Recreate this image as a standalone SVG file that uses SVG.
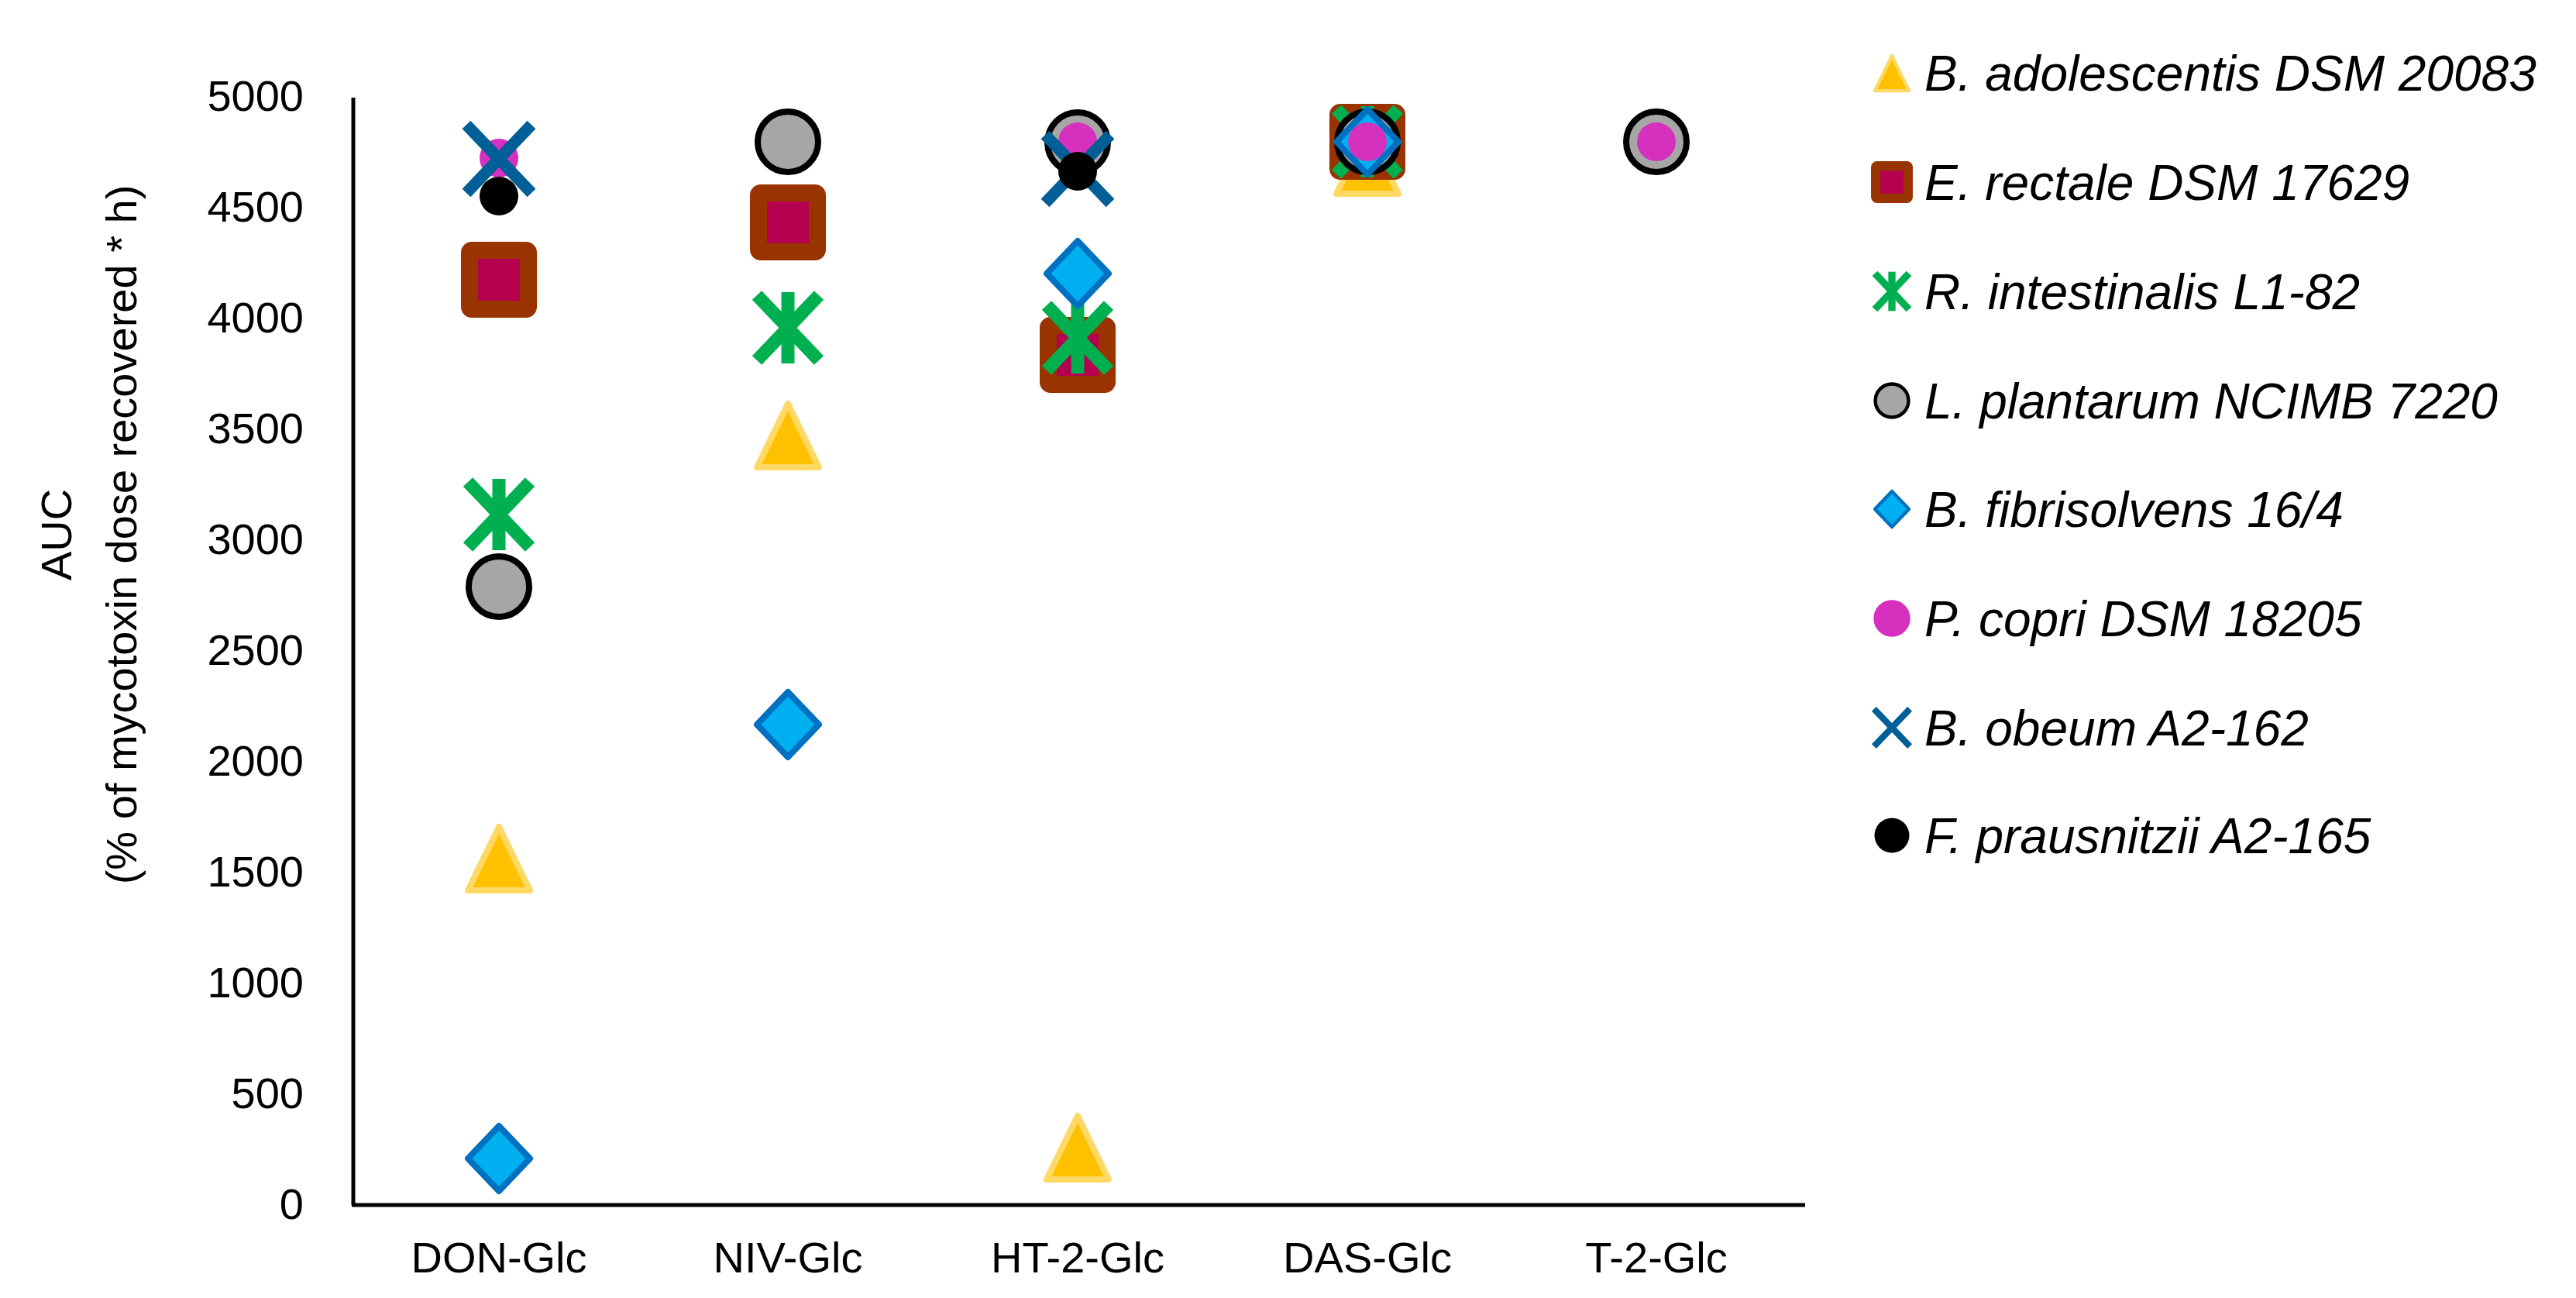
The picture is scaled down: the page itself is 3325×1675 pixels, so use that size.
<svg xmlns="http://www.w3.org/2000/svg" xmlns:xlink="http://www.w3.org/1999/xlink" width="3325" height="1675" viewBox="0 0 3325 1675">
<style>
text{font-family:"Liberation Sans",Arial,sans-serif;fill:#000}
.t{font-size:56px}
.lg{font-size:64px;font-style:italic}
</style>
<defs>
<g id="tri"><polygon points="0,-40 40,42 -40,42" fill="#FFC000" stroke="#FFD966" stroke-width="8" stroke-linejoin="round"/></g>
<g id="sq"><rect x="-38" y="-38" width="76" height="76" rx="3" fill="#B4004E" stroke="#993300" stroke-width="22" stroke-linejoin="round"/></g>
<g id="ast" stroke="#00B050" stroke-width="17"><line x1="0" y1="-46" x2="0" y2="46"/><line x1="-40" y1="-42" x2="40" y2="42"/><line x1="-40" y1="42" x2="40" y2="-42"/></g>
<g id="circ"><circle r="39" fill="#A6A6A6" stroke="#000" stroke-width="8"/></g>
<g id="dia"><polygon points="0,-42 40,0 0,42 -40,0" fill="#00B0F0" stroke="#0070C0" stroke-width="8" stroke-linejoin="round"/></g>
<g id="mag"><circle r="25" fill="#D630BE"/></g>
<g id="xb" stroke="#005F96" stroke-width="15"><line x1="-42" y1="-44" x2="42" y2="44"/><line x1="-42" y1="44" x2="42" y2="-44"/></g>
<g id="blk"><circle r="25" fill="#000"/></g>
</defs>
<rect width="3325" height="1675" fill="#fff"/>
<g id="axes" stroke="#000" stroke-width="5" fill="none">
<line x1="456" y1="126" x2="456" y2="1555"/>
<line x1="454" y1="1555" x2="2330" y2="1555"/>
</g>
<g id="yticks" class="t" text-anchor="end">
<text x="392" y="143" class="t">5000</text>
<text x="392" y="286" class="t">4500</text>
<text x="392" y="429" class="t">4000</text>
<text x="392" y="572" class="t">3500</text>
<text x="392" y="715" class="t">3000</text>
<text x="392" y="858" class="t">2500</text>
<text x="392" y="1001" class="t">2000</text>
<text x="392" y="1144" class="t">1500</text>
<text x="392" y="1287" class="t">1000</text>
<text x="392" y="1430" class="t">500</text>
<text x="392" y="1573" class="t">0</text>
</g>
<g id="ytitle" text-anchor="middle">
<text class="t" transform="translate(92,690) rotate(-90)">AUC</text>
<text class="t" transform="translate(176,690) rotate(-90)">(% of mycotoxin dose recovered * h)</text>
</g>
<g id="xlabels" text-anchor="middle">
<text x="644" y="1642" class="t">DON-Glc</text>
<text x="1017" y="1642" class="t">NIV-Glc</text>
<text x="1391" y="1642" class="t">HT-2-Glc</text>
<text x="1765" y="1642" class="t">DAS-Glc</text>
<text x="2138" y="1642" class="t">T-2-Glc</text>
</g>
<g id="points">
<use href="#tri" x="644" y="1107"/><use href="#tri" x="1017" y="561"/><use href="#tri" x="1391" y="1480"/><use href="#tri" x="1765" y="208"/>
<use href="#sq" x="644" y="361"/><use href="#sq" x="1017" y="287"/><use href="#sq" x="1391" y="458"/><use href="#sq" x="1765" y="183"/>
<use href="#ast" x="644" y="664"/><use href="#ast" x="1017" y="423"/><use href="#ast" x="1391" y="436"/><use href="#ast" x="1765" y="183"/>
<use href="#circ" x="644" y="757"/><use href="#circ" x="1017" y="183"/><use href="#circ" x="1391" y="184"/><use href="#circ" x="1765" y="183"/><use href="#circ" x="2138" y="183"/>
<use href="#dia" x="644" y="1495"/><use href="#dia" x="1017" y="935"/><use href="#dia" x="1391" y="353"/><use href="#dia" x="1765" y="183"/>
<use href="#mag" x="644" y="204"/><use href="#mag" x="1391" y="183"/><use href="#mag" x="1765" y="183"/><use href="#mag" x="2138" y="183"/>
<use href="#xb" x="644" y="205"/><use href="#xb" x="1391" y="218"/>
<use href="#blk" x="644" y="253"/><use href="#blk" x="1391" y="221"/>
</g>
<g id="legend">
<g id="leg1"><use href="#tri" transform="translate(2442,94) scale(0.55)"/><text x="2484" y="117" class="lg">B. adolescentis DSM 20083</text></g>
<g id="leg2"><use href="#sq" transform="translate(2442,235) scale(0.55)"/><text x="2484" y="258" class="lg">E. rectale DSM 17629</text></g>
<g id="leg3"><use href="#ast" transform="translate(2442,376) scale(0.55)"/><text x="2484" y="399" class="lg">R. intestinalis L1-82</text></g>
<g id="leg4"><use href="#circ" transform="translate(2442,517) scale(0.55)"/><text x="2484" y="540" class="lg">L. plantarum NCIMB 7220</text></g>
<g id="leg5"><use href="#dia" transform="translate(2442,657) scale(0.55)"/><text x="2484" y="680" class="lg">B. fibrisolvens 16/4</text></g>
<g id="leg6"><use href="#mag" transform="translate(2442,798) scale(0.95)"/><text x="2484" y="821" class="lg">P. copri DSM 18205</text></g>
<g id="leg7"><use href="#xb" transform="translate(2442,939) scale(0.55)"/><text x="2484" y="962" class="lg">B. obeum A2-162</text></g>
<g id="leg8"><use href="#blk" transform="translate(2442,1078) scale(0.9)"/><text x="2484" y="1101" class="lg">F. prausnitzii A2-165</text></g>
</g>
</svg>
